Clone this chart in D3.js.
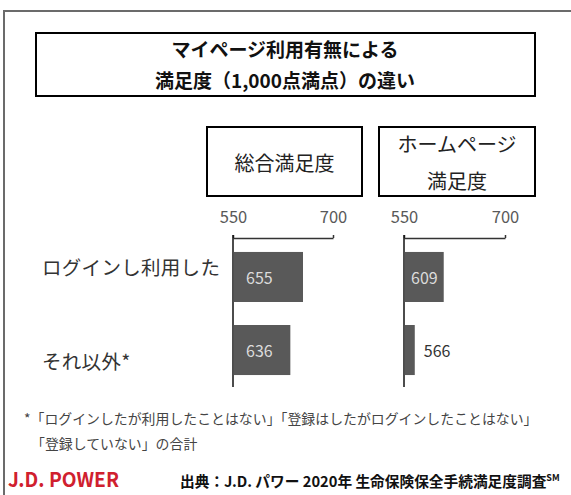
<!DOCTYPE html>
<html>
<head>
<meta charset="utf-8">
<script src="https://cdn.jsdelivr.net/npm/d3@7"></script>
<style>
  body { margin: 0; background: #fff; }
  text { font-family: "Noto Sans CJK JP", "Noto Sans", sans-serif; }
</style>
</head>
<body>
<div id="chart"></div>
<script>
// DATA
const categories = ["ログインし利用した", "それ以外*"];
const overallScores = [655, 636];
const homepageScores = [609, 566];
const axisTicks = [550, 700];
const overallTitle = ["総合満足度"];
const homepageTitle = ["ホームページ", "満足度"];
const titleLines = ["マイページ利用有無による", "満足度（1,000点満点）の違い"];
const footnoteLines = [
  "*「ログインしたが利用したことはない」「登録はしたがログインしたことはない」",
  "「登録していない」の合計"
];

const WIDTH = 571;
const HEIGHT = 495;
const BAR_COLOR = "#595959";

const svg = d3
  .select("#chart")
  .append("svg")
  .attr("width", WIDTH)
  .attr("height", HEIGHT);

// FRAME
svg
  .append("rect")
  .attr("x", 4)
  .attr("y", 11)
  .attr("width", 700)
  .attr("height", 700)
  .attr("fill", "none")
  .attr("stroke", "#6b6b6b")
  .attr("stroke-width", 2);

// TITLE
svg
  .append("rect")
  .attr("x", 36)
  .attr("y", 33)
  .attr("width", 499)
  .attr("height", 63)
  .attr("fill", "none")
  .attr("stroke", "#000")
  .attr("stroke-width", 2);

svg
  .selectAll(".title")
  .data(titleLines)
  .enter()
  .append("text")
  .attr("class", "title")
  .attr("x", 285)
  .attr("y", (d, i) => 48 + i * 31)
  .attr("text-anchor", "middle")
  .attr("dominant-baseline", "central")
  .attr("font-size", "19px")
  .attr("font-weight", "bold")
  .style("fill", "#111")
  .text((d) => d);

// SCALES
const y = d3
  .scaleBand()
  .domain(categories)
  .range([241, 386])
  .paddingInner(23 / 73)
  .paddingOuter(0.15);

const panels = [
  { values: overallScores, title: overallTitle, range: [233, 333], box: [207, 362], inset: 13 },
  { values: homepageScores, title: homepageTitle, range: [404, 505], box: [379, 535], inset: 7 }
];

// CATEGORY LABELS
svg
  .selectAll(".category")
  .data(categories)
  .enter()
  .append("text")
  .attr("class", "category")
  .attr("x", 42)
  .attr("y", (d, i) => y(d) + y.bandwidth() / 2 + (i === 0 ? -10 : 10))
  .attr("dominant-baseline", "central")
  .attr("font-size", "19.5px")
  .style("letter-spacing", "0.3px")
  .style("fill", "#333")
  .text((d) => d);

panels.forEach((p) => {
  const x = d3.scaleLinear().domain([550, 700]).range(p.range);
  const g = svg.append("g");

  // PANEL TITLE BOX
  g.append("rect")
    .attr("x", p.box[0])
    .attr("y", 127)
    .attr("width", p.box[1] - p.box[0])
    .attr("height", 69)
    .attr("fill", "none")
    .attr("stroke", "#000")
    .attr("stroke-width", 2);

  const cx = (p.box[0] + p.box[1]) / 2;
  g.selectAll(".panelTitle")
    .data(p.title)
    .enter()
    .append("text")
    .attr("class", "panelTitle")
    .attr("x", cx)
    .attr("y", (d, i) => (p.title.length === 1 ? 162 : 143 + i * 37))
    .attr("text-anchor", "middle")
    .attr("dominant-baseline", "central")
    .attr("font-size", "20px")
    .style("fill", "#222")
    .text((d) => d);

  // AXIS
  const axisGroup = g
    .append("g")
    .attr("transform", "translate(0, 238)")
    .call(d3.axisTop(x).tickValues(axisTicks).tickSizeInner(3).tickSizeOuter(0).tickPadding(12));
  axisGroup.selectAll("line, path").attr("stroke", "#333").attr("stroke-width", 1.5);
  axisGroup
    .selectAll(".tick text")
    .attr("font-size", "16.5px")
    .attr("font-family", "'Noto Sans', sans-serif")
    .style("fill", "#595959");

  g.append("line")
    .attr("x1", x(550))
    .attr("x2", x(550))
    .attr("y1", 235)
    .attr("y2", 387)
    .attr("stroke", "#111")
    .attr("stroke-width", 1.5);

  // BARS
  g.selectAll(".bar")
    .data(p.values)
    .enter()
    .append("rect")
    .attr("class", "bar")
    .attr("x", x(550) + 0.75)
    .attr("y", (d, i) => y(categories[i]))
    .attr("width", (d) => x(d) - x(550) - 0.75)
    .attr("height", y.bandwidth())
    .attr("fill", BAR_COLOR);

  // VALUE LABELS
  g.selectAll(".value")
    .data(p.values)
    .enter()
    .append("text")
    .attr("class", "value")
    .attr("x", (d) => (x(d) - x(550) > 35 ? x(550) + p.inset : x(d) + 9))
    .attr("y", (d, i) => y(categories[i]) + y.bandwidth() / 2)
    .attr("dominant-baseline", "central")
    .attr("font-size", "16px")
    .attr("font-family", "'Noto Sans', sans-serif")
    .style("fill", (d) => (x(d) - x(550) > 35 ? "#dcdcdc" : "#333"))
    .text((d) => d);
});

// FOOTNOTE
svg
  .selectAll(".footnote")
  .data(footnoteLines)
  .enter()
  .append("text")
  .attr("class", "footnote")
  .attr("x", (d, i) => (i === 0 ? 24 : 31))
  .attr("y", (d, i) => 418 + i * 25)
  .attr("dominant-baseline", "central")
  .attr("font-size", "13.9px")
  .style("fill", "#444")
  .text((d) => d);

// LOGO
svg
  .append("text")
  .attr("x", 8)
  .attr("y", 487)
  .attr("font-size", "20.5px")
  .attr("font-weight", "bold")
  .attr("font-family", "Roboto, sans-serif")
  .attr("textLength", 111)
  .attr("lengthAdjust", "spacingAndGlyphs")
  .style("fill", "#d0202e")
  .text("J.D. POWER");

// SOURCE
const source = svg
  .append("text")
  .attr("x", 180)
  .attr("y", 487)
  .attr("font-size", "14.7px")
  .attr("font-weight", "bold")
  .style("fill", "#111");
source.append("tspan").text("出典：J.D. パワー 2020年 生命保険保全手続満足度調査");
source.append("tspan").attr("font-size", "9px").attr("dy", "-6").text("SM");
</script>
</body>
</html>
